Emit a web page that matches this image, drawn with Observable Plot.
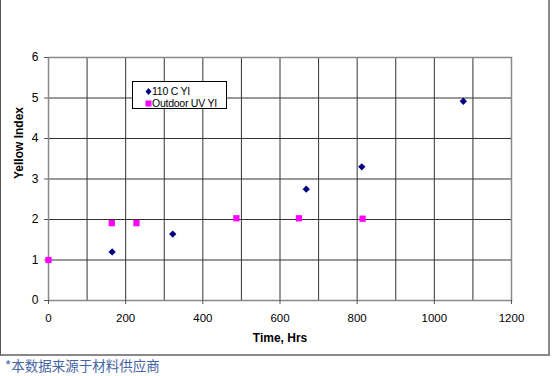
<!DOCTYPE html>
<html>
<head>
<meta charset="utf-8">
<script src="https://cdn.jsdelivr.net/npm/d3@7"></script>
<script src="https://cdn.jsdelivr.net/npm/@observablehq/plot@0.6"></script>
<style>
  body { margin: 0; background: #fff; }
  #wrap { position: relative; width: 554px; height: 376px; overflow: hidden; font-family: "Liberation Sans", Arial, sans-serif; }
  #frame { position: absolute; left: 0px; top: -10px; width: 550px; height: 366px; border-left: 1.5px solid #555; border-right: 2px solid #888; border-bottom: 2px solid #888; box-sizing: border-box; pointer-events: none; }
  #caption { position: absolute; left: 5px; top: 356px; font-family: "Noto Sans CJK SC", sans-serif; font-size: 13.5px; color: #4464a4; line-height: 18px; }
  #legend { position: absolute; left: 132px; top: 81px; width: 95px; height: 28px; border: 1px solid #000; background: #fff; box-sizing: border-box; font-size: 10.5px; letter-spacing: -0.25px; color: #000; }
  #legend .row { position: absolute; left: 12px; display: flex; align-items: center; gap: 0px; line-height: 12px; }
  #plot svg { display: block; }
</style>
</head>
<body>
<div id="wrap">
  <div id="plot"></div>
  <div id="frame"></div>
  <div id="legend"></div>
  <div id="caption">*本数据来源于材料供应商</div>
</div>
<script>
const seriesNames = ["110 C YI", "Outdoor UV YI"];
const seriesColors = ["#000080", "#ff00ff"];

const heatHours = [165, 322, 668, 812, 1075];
const heatYI = [1.2, 1.64, 2.75, 3.3, 4.92];

const uvHours = [0, 164, 228, 487, 649, 814];
const uvYI = [1.0, 1.91, 1.91, 2.03, 2.03, 2.02];

const xTicks = [0, 200, 400, 600, 800, 1000, 1200];
const xGrid = d3.range(0, 1201, 100);
const yTicks = [0, 1, 2, 3, 4, 5, 6];

const heat = heatHours.map((h, i) => ({hours: h, yi: heatYI[i]}));
const uv = uvHours.map((h, i) => ({hours: h, yi: uvYI[i]}));

const plot = Plot.plot({
  width: 554,
  height: 357,
  marginLeft: 48,
  marginRight: 43,
  marginTop: 57,
  marginBottom: 57,
  style: {fontFamily: "Liberation Sans, Arial, sans-serif", fontSize: "11px", color: "#000", background: "transparent"},
  x: {domain: [0, 1200]},
  y: {domain: [0, 6]},
  marks: [
    Plot.gridX(xGrid, {stroke: "#333", strokeOpacity: 1, strokeWidth: 1}),
    Plot.gridY(yTicks, {stroke: "#333", strokeOpacity: 1, strokeWidth: 1}),
    Plot.frame({stroke: "#888", strokeWidth: 1.5}),
    Plot.axisX(xTicks, {tickSize: 4, stroke: "#555", tickPadding: 9, fontSize: 11.5, tickFormat: d3.format("d"), label: null}),
    Plot.axisY(yTicks, {tickSize: 4, stroke: "#555", tickPadding: 6, fontSize: 12, label: null}),
    Plot.text(["Time, Hrs"], {frameAnchor: "bottom", dy: 41, fontWeight: "bold", fontSize: 12}),
    Plot.text(["Yellow Index"], {frameAnchor: "left", dx: -29, rotate: -90, fontWeight: "bold", fontSize: 12}),
    Plot.dot(heat, {x: "hours", y: "yi", symbol: "diamond2", r: 3.3, fill: seriesColors[0], stroke: "none"}),
    Plot.dot(uv, {x: "hours", y: "yi", symbol: "square2", r: 4, fill: seriesColors[1], stroke: "none"})
  ]
});
document.getElementById("plot").appendChild(plot);

const legend = document.getElementById("legend");
seriesNames.forEach((name, i) => {
  const row = document.createElement("div");
  row.className = "row";
  row.style.top = (i === 0 ? 3 : 15) + "px";
  const sym = i === 0
    ? `<svg width="7" height="9"><path d="M3.5 1 L6.5 4.5 L3.5 8 L0.5 4.5 Z" fill="${seriesColors[0]}"/></svg>`
    : `<svg width="7" height="9"><rect x="0.5" y="1.5" width="6" height="6" fill="${seriesColors[1]}"/></svg>`;
  row.innerHTML = sym + `<span>${name}</span>`;
  legend.appendChild(row);
});
</script>
</body>
</html>
